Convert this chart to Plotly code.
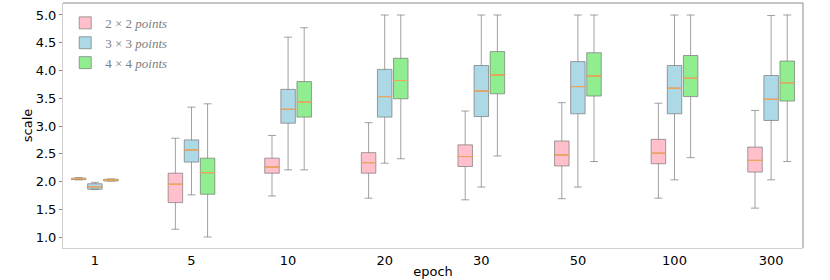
import plotly.graph_objects as go

epochs = ['1', '5', '10', '20', '30', '50', '100', '300']

# 2x2 points
p2_lower = [2.03, 1.14, 1.74, 1.70, 1.67, 1.69, 1.70, 1.52]
p2_q1 = [2.035, 1.62, 2.15, 2.15, 2.27, 2.28, 2.32, 2.17]
p2_med = [2.05, 1.95, 2.26, 2.34, 2.45, 2.48, 2.51, 2.38]
p2_q3 = [2.06, 2.15, 2.42, 2.52, 2.66, 2.73, 2.76, 2.62]
p2_upper = [2.07, 2.78, 2.83, 3.06, 3.27, 3.42, 3.41, 3.28]

# 3x3 points
p3_lower = [1.86, 1.76, 2.21, 2.33, 1.90, 1.90, 2.03, 2.03]
p3_q1 = [1.86, 2.35, 3.05, 3.16, 3.17, 3.22, 3.22, 3.10]
p3_med = [1.905, 2.57, 3.30, 3.53, 3.63, 3.71, 3.68, 3.48]
p3_q3 = [1.96, 2.75, 3.66, 4.02, 4.09, 4.16, 4.09, 3.91]
p3_upper = [1.985, 3.34, 4.60, 5.0, 5.0, 5.0, 5.0, 4.99]

# 4x4 points
p4_lower = [2.01, 1.00, 2.21, 2.41, 2.46, 2.36, 2.43, 2.36]
p4_q1 = [2.01, 1.77, 3.16, 3.49, 3.58, 3.54, 3.53, 3.45]
p4_med = [2.025, 2.16, 3.43, 3.82, 3.92, 3.90, 3.86, 3.78]
p4_q3 = [2.04, 2.42, 3.80, 4.22, 4.34, 4.32, 4.27, 4.17]
p4_upper = [2.045, 3.40, 4.77, 5.0, 5.0, 5.0, 5.0, 5.0]

series_names = ['2 × 2 <i>points</i>', '3 × 3 <i>points</i>', '4 × 4 <i>points</i>']
fill_colors = ['#FFC0CB', '#ADD8E6', '#90EE90']

stats = [
    (p2_lower, p2_q1, p2_med, p2_q3, p2_upper),
    (p3_lower, p3_q1, p3_med, p3_q3, p3_upper),
    (p4_lower, p4_q1, p4_med, p4_q3, p4_upper),
]

fig = go.Figure()
edge = 'rgba(110,110,110,0.65)'
median_col = 'rgba(240,165,90,0.85)'
legend_text = '#808080'

for i, (lo, q1, md, q3, up) in enumerate(stats):
    fig.add_trace(go.Box(
        x=epochs, q1=q1, median=md, q3=q3, lowerfence=lo, upperfence=up,
        name='<span style="color:%s">%s</span>' % (legend_text, series_names[i]),
        offsetgroup=str(i), legendgroup=str(i),
        fillcolor=fill_colors[i], line=dict(color=edge, width=1),
        whiskerwidth=0.55, boxpoints=False, hoverinfo='skip',
    ))
for i, (lo, q1, md, q3, up) in enumerate(stats):
    fig.add_trace(go.Box(
        x=epochs, q1=md, median=md, q3=md, lowerfence=md, upperfence=md,
        name=series_names[i], offsetgroup=str(i), legendgroup=str(i),
        fillcolor='rgba(0,0,0,0)', line=dict(color=median_col, width=1),
        whiskerwidth=0, boxpoints=False, showlegend=False, hoverinfo='skip',
    ))

fig.update_layout(
    width=830, height=280,
    margin=dict(l=63, r=27, t=3, b=32),
    paper_bgcolor='white', plot_bgcolor='white',
    boxmode='group', boxgap=0.5, boxgroupgap=0.1,
    font=dict(family='DejaVu Sans', size=13, color='black'),
    legend=dict(
        x=0.003, y=0.98, xanchor='left', yanchor='top',
        bgcolor='rgba(0,0,0,0)',
        font=dict(family='Liberation Serif', size=13, color=legend_text),
        tracegroupgap=0, itemwidth=30, itemclick=False, itemdoubleclick=False,
    ),
    showlegend=True,
    hovermode=False,
)
fig.update_xaxes(
    type='category', range=[-0.33, 7.33], automargin=False,
    showline=True, linecolor='#d0d0d0', linewidth=1, mirror=False,
    showgrid=False, zeroline=False, ticks='',
    title=dict(text='epoch', standoff=0, font=dict(size=13)),
    tickfont=dict(size=13),
)
fig.update_yaxes(
    range=[0.802, 5.216], tick0=1.0, dtick=0.5, tickformat='.1f', automargin=False,
    showline=True, linecolor='#d0d0d0', linewidth=1, mirror=False,
    showgrid=False, zeroline=False, ticks='outside', ticklen=3, tickcolor='#888',
    title=dict(text='scale', standoff=0, font=dict(size=13)),
    tickfont=dict(size=13),
)
# top and right frame lines (darker)
fig.add_shape(type='line', xref='paper', yref='paper', x0=0, x1=1, y0=1, y1=1,
              line=dict(color='#888888', width=1))
fig.add_shape(type='line', xref='paper', yref='paper', x0=1, x1=1, y0=0, y1=1,
              line=dict(color='#888888', width=1))

fig.write_html('out.html', config={'displayModeBar': False, 'staticPlot': True},
               post_script="document.body.style.margin='0';")
